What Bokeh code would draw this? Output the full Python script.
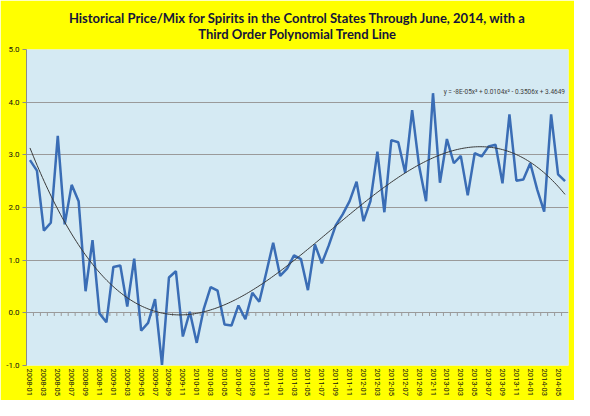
import numpy as np
from bokeh.plotting import figure
from bokeh.models import Range1d, FixedTicker, NumeralTickFormatter, Label, Title
from bokeh.embed import file_html
from bokeh.resources import INLINE

# ---- data ----
months = [f"{2008 + i // 12}-{i % 12 + 1:02d}" for i in range(78)]
values = [2.90, 2.70, 1.56, 1.71, 3.36, 1.68, 2.43, 2.12, 0.41, 1.38,
          -0.01, -0.18, 0.87, 0.90, 0.12, 1.03, -0.34, -0.19, 0.26, -0.99,
          0.67, 0.79, -0.45, 0.02, -0.57, 0.07, 0.49, 0.42, -0.22, -0.24,
          0.14, -0.12, 0.38, 0.21, 0.76, 1.33, 0.70, 0.84, 1.09, 1.02,
          0.43, 1.30, 0.94, 1.28, 1.66, 1.87, 2.12, 2.49, 1.74, 2.12,
          3.06, 1.91, 3.28, 3.24, 2.66, 3.85, 2.79, 2.12, 4.17, 2.47,
          3.30, 2.84, 2.98, 2.23, 3.03, 2.97, 3.16, 3.19, 2.46, 3.77,
          2.51, 2.53, 2.84, 2.34, 1.92, 3.77, 2.63, 2.50]
y_ticks = [-1, 0, 1, 2, 3, 4, 5]
title_text = ("Historical Price/Mix for Spirits in the Control States Through June, 2014, with a\n"
              "Third Order Polynomial Trend Line")
equation = "y = -8E-05x\u00b3 + 0.0104x\u00b2 - 0.3506x + 3.4649"

n = len(values)
x = np.arange(n)

p = figure(width=574, height=400, output_backend="svg", toolbar_location=None,
           title=None,
           x_range=Range1d(-0.5, n - 0.5), y_range=Range1d(-1, 5),
           min_border_left=26, min_border_right=6, min_border_top=49,
           min_border_bottom=35)
p.background_fill_color = "#D5EAF3"
p.border_fill_color = "#FFFF00"
p.outline_line_color = None

p.add_layout(Title(text=title_text, align="center", text_align="center",
                   text_font="Lato", text_font_size="13px",
                   text_font_style="bold", text_color="#15153a",
                   text_line_height=1.0, standoff=15), "above")

# y axis
p.yaxis.ticker = FixedTicker(ticks=y_ticks)
p.yaxis.formatter = NumeralTickFormatter(format="0.0")
p.yaxis.axis_line_color = "#8c8c8c"
p.yaxis.major_tick_line_color = "#8c8c8c"
p.yaxis.major_tick_out = 4
p.yaxis.major_tick_in = 0
p.yaxis.minor_tick_line_color = None
p.yaxis.major_label_standoff = 3
p.yaxis.major_label_text_font = "Roboto"
p.yaxis.major_label_text_font_size = "8px"
p.yaxis.major_label_text_color = "#111111"

p.ygrid.ticker = FixedTicker(ticks=y_ticks)
p.ygrid.grid_line_color = "#9a9a9a"
p.ygrid.grid_line_width = 1
p.xgrid.grid_line_color = None

# x axis (labels at bottom)
label_idx = list(range(0, n, 2))
p.xaxis.ticker = FixedTicker(ticks=label_idx)
p.xaxis.major_label_overrides = {i: months[i] for i in label_idx}
p.xaxis.major_label_orientation = "vertical"
p.xaxis.axis_line_color = None
p.xaxis.major_tick_line_color = None
p.xaxis.minor_tick_line_color = None
p.xaxis.major_tick_out = 0
p.xaxis.major_tick_in = 0
p.xaxis.major_label_standoff = 3
p.xaxis.major_label_text_font = "Roboto"
p.xaxis.major_label_text_font_size = "7.5px"
p.xaxis.major_label_text_color = "#111111"

# category tick marks on the zero line
bounds = np.arange(0.5, n - 0.5, 1.0)
p.segment(x0=bounds, y0=0, x1=bounds, y1=-0.06, line_color="#9a9a9a", line_width=1)

# series
p.line(x, values, line_color="#3A6DB5", line_width=2.5)

# third order polynomial trend
coeffs = np.polyfit(x + 1, values, 3)
xs = np.linspace(1, n, 300)
p.line(xs - 1, np.polyval(coeffs, xs), line_color="#3a3a3a", line_width=1)

p.add_layout(Label(x=77.0, y=4.2, text=equation, text_align="right",
                   text_baseline="middle", text_font="Roboto",
                   text_font_size="6.5px", text_color="#404040"))

open("out.html", "w").write(file_html(p, INLINE))
